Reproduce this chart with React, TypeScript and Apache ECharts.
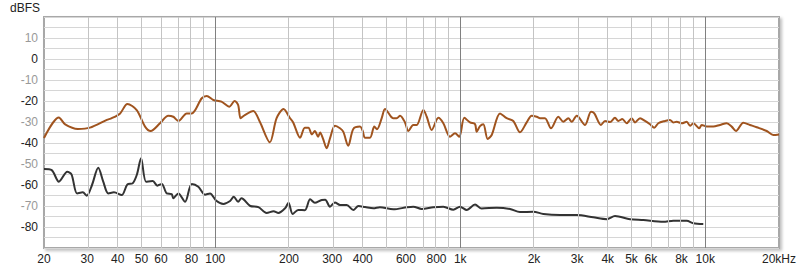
import React, { useEffect, useRef } from "react";
import * as echarts from "echarts";

// Orange (upper) response: frequency in Hz, level in dBFS
const upperHz = [20, 23, 24.4, 27.5, 30.8, 36.1, 37.8, 40.9, 43.8, 47.8, 51.7, 54.5, 59.5, 64.3, 67.4, 70.7, 76.5, 80.2, 88.1, 92.3, 98.2, 106, 114, 120, 124, 127, 132, 143, 152, 167, 178, 190, 202, 208, 222, 232, 240, 248, 255, 263, 268, 275, 285, 294, 308, 323, 333, 349, 366, 390, 399, 409, 428, 446, 457, 478, 493, 522, 532, 550, 568, 595, 614, 643, 664, 707, 730, 765, 814, 853, 908, 952, 991, 1039, 1096, 1149, 1167, 1204, 1242, 1294, 1344, 1453, 1547, 1646, 1753, 1867, 1957, 2052, 2116, 2217, 2346, 2514, 2634, 2761, 2850, 2988, 3230, 3418, 3526, 3754, 3898, 4086, 4282, 4418, 4586, 4780, 5010, 5168, 5418, 5678, 5950, 6194, 6432, 6850, 7180, 7406, 7646, 8016, 8402, 8666, 8940, 9458, 9674, 10138, 10786, 11488, 12234, 12822, 13352, 14300, 15230, 16218, 17818, 18956, 20000];
const upperDb = [-37.6, -27.8, -31.1, -33.3, -32.7, -29, -28.2, -25.9, -21.4, -24.3, -32.2, -34.3, -30.6, -27, -27.5, -29.5, -25.9, -25.9, -18.7, -17.6, -19.5, -20.3, -22.7, -20, -21.9, -28.2, -26.7, -24.8, -29.9, -39.7, -28.2, -23.8, -28.2, -30.2, -37.5, -32.7, -32.7, -35.9, -34.3, -37, -35, -37.8, -42.5, -37.8, -31.8, -33, -34.6, -41.3, -33.3, -32.2, -34, -37.5, -37.5, -32.2, -33.5, -28.2, -23.8, -27.5, -28.2, -28.2, -27, -30.2, -34.3, -31.4, -31.4, -24.3, -27.5, -33.8, -28, -30.6, -37, -35.4, -37, -28, -30.2, -31, -34.6, -32, -31.1, -38.1, -36.2, -25.9, -28.2, -29.5, -34.9, -30.2, -27, -27.5, -28.2, -28.2, -33, -27.5, -29.9, -28.2, -29.9, -27, -31.4, -25.1, -25.9, -31.4, -29.5, -30, -28, -29.5, -28.6, -30.6, -28.2, -30.2, -28.2, -29.5, -31.1, -32.7, -30.6, -29.5, -29, -30.2, -29.9, -30.6, -29.9, -31.8, -30.6, -33, -31.4, -32.2, -32.2, -31.4, -30.6, -32.2, -34.3, -30.3, -31.4, -32.5, -34.3, -36.2, -35.9];

// Dark (lower) response
const lowerHz = [20, 21.5, 23, 24.9, 25.9, 27.3, 28.8, 29.9, 31.4, 33.3, 34.9, 36.6, 38.6, 41.5, 43.8, 46, 47.9, 49.8, 52.2, 55.6, 58, 60.5, 63.4, 66.4, 67.4, 70.7, 75.3, 80.2, 85.3, 90.8, 95.2, 101, 108, 115, 119, 124, 128, 139, 150, 162, 173, 181, 193, 199, 207, 218, 232, 244, 255, 272, 281, 294, 308, 323, 344, 366, 384, 409, 442, 470, 533, 605, 643, 696, 776, 853, 937, 998, 1063, 1149, 1223, 1409, 1596, 1753, 1987, 2183, 2554, 2988, 3492, 3962, 4282, 4930, 5586, 6744, 7406, 8402, 8940, 9818];
const lowerDb = [-52.4, -52.9, -58.4, -53.7, -54.9, -64, -63.5, -65.1, -60, -51.8, -58.4, -64, -63.5, -64.8, -59.7, -59.2, -55, -47.3, -58.4, -58.1, -60.3, -59.5, -64, -64.3, -66.3, -64, -68, -59.5, -60.8, -64.6, -64, -67.5, -69, -67.6, -65.6, -68, -66.3, -70, -70.5, -73.3, -72.5, -73.3, -71, -68.4, -73.8, -71.9, -72, -66.8, -68.5, -67.1, -67, -70.3, -68.3, -69.5, -69.5, -71.9, -70, -70.5, -71.1, -70.6, -71.6, -70.6, -70.3, -71.4, -70.6, -70.3, -71.8, -70.3, -71.9, -69.3, -71.2, -70.8, -71.4, -72.9, -72.7, -73.8, -74.3, -74.3, -75.4, -76.3, -74.8, -76.3, -76.7, -77.5, -77, -77, -78.2, -78.6];

const xTickHz = [20, 30, 40, 50, 60, 80, 100, 200, 300, 400, 600, 800, 1000, 2000, 3000, 4000, 5000, 6000, 8000, 10000, 20000];
const yTickDb = [10, 0, -10, -20, -30, -40, -50, -60, -70, -80];
const minorGridHz = [30, 40, 50, 60, 70, 80, 90, 200, 300, 400, 500, 600, 700, 800, 900, 2000, 3000, 4000, 5000, 6000, 7000, 8000, 9000];
const decadeGridHz = [100, 1000, 10000];

const FONT = "'Liberation Sans', Arial, sans-serif";

function hzLabel(hz: number): string {
  if (hz >= 20000) return "20kHz";
  if (hz >= 1000) return hz / 1000 + "k";
  return String(hz);
}

export default function App() {
  const ref = useRef<HTMLDivElement>(null);
  useEffect(() => {
    document.body.style.margin = "0";
    const chart = echarts.init(ref.current!, null, { renderer: "svg" });
    const lg = (v: number) => Math.log10(v);
    chart.setOption({
      animation: false,
      backgroundColor: "#ffffff",
      textStyle: { fontFamily: FONT },
      grid: {
        left: 44,
        top: 17,
        right: 21,
        bottom: 23,
        show: true,
        backgroundColor: "#ffffff",
        borderColor: "#a8a8a8",
        borderWidth: 2,
        shadowColor: "rgba(0,0,0,0.25)",
        shadowBlur: 3,
        shadowOffsetX: 2,
        shadowOffsetY: 2,
      },
      graphic: [
        {
          type: "text",
          left: 10,
          top: 2,
          style: { text: "dBFS", fontSize: 12, fontFamily: FONT, fill: "#222" },
        },
      ],
      xAxis: {
        type: "value",
        min: lg(20),
        max: lg(20000),
        axisLine: { show: false },
        axisTick: { show: false },
        splitLine: { show: false },
        axisLabel: {
          customValues: xTickHz.map(lg),
          formatter: (v: number) => hzLabel(Math.round(Math.pow(10, v))),
          color: "#222",
          fontSize: 12,
          fontFamily: FONT,
          margin: 5,
        },
      },
      yAxis: {
        type: "value",
        min: -90,
        max: 20,
        interval: 5,
        axisLine: { show: false },
        axisTick: { show: false },
        splitLine: { show: true, lineStyle: { color: "#d6d6d6", width: 1 } },
        axisLabel: {
          customValues: yTickDb,
          color: (v: any) => (Number(v) % 20 === 0 ? "#222" : "#999"),
          fontSize: 12,
          fontFamily: FONT,
          margin: 6,
        },
      },
      series: [
        {
          type: "line",
          data: [],
          z: 1,
          silent: true,
          markLine: {
            silent: true,
            symbol: "none",
            label: { show: false },
            lineStyle: { color: "#c4c4c4", width: 1, type: "solid" },
            data: minorGridHz.map((h) => ({ xAxis: lg(h) })),
          },
        },
        {
          type: "line",
          data: [],
          z: 1,
          silent: true,
          markLine: {
            silent: true,
            symbol: "none",
            label: { show: false },
            lineStyle: { color: "#808080", width: 1, type: "solid" },
            data: decadeGridHz.map((h) => ({ xAxis: lg(h) })),
          },
        },
        {
          type: "line",
          z: 3,
          data: upperHz.map((h, i) => [lg(h), upperDb[i]]),
          showSymbol: false,
          smooth: 0.3,
          lineStyle: { color: "#a0541f", width: 2 },
        },
        {
          type: "line",
          z: 3,
          data: lowerHz.map((h, i) => [lg(h), lowerDb[i]]),
          showSymbol: false,
          smooth: 0.3,
          lineStyle: { color: "#333333", width: 2 },
        },
      ],
    });
    return () => chart.dispose();
  }, []);
  return <div ref={ref} style={{ width: 800, height: 271 }} />;
}
